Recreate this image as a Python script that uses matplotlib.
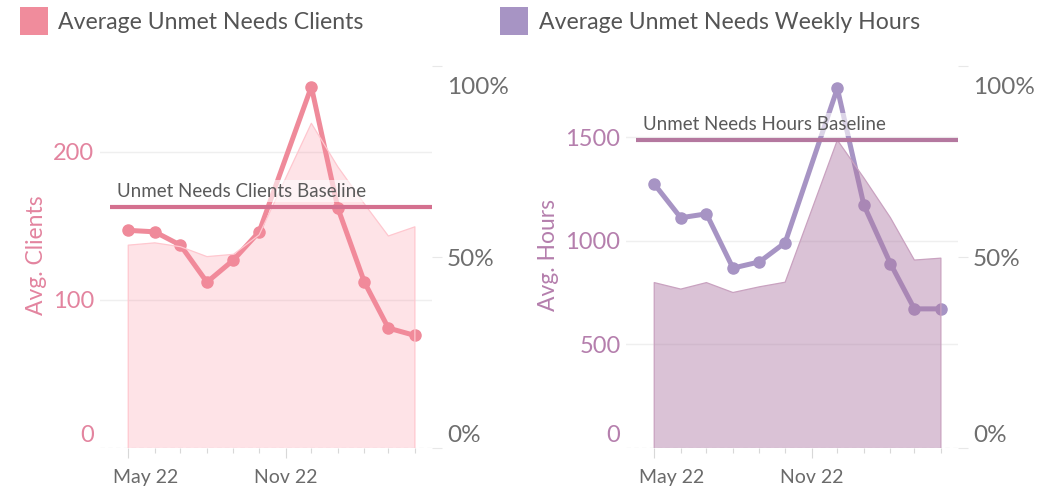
import matplotlib
matplotlib.use("Agg")
import matplotlib.pyplot as plt
import matplotlib.transforms as mtrans
from matplotlib.patches import Rectangle
import numpy as np

# ---------------- data ----------------
months = ["2022-05-01", "2022-06-01", "2022-07-01", "2022-08-01", "2022-09-01",
          "2022-10-01", "2022-12-01", "2023-01-01", "2023-02-01", "2023-03-01",
          "2023-04-01"]
clients_avg = [147, 146, 137, 112, 127, 146, 244, 162, 112, 81, 76]
clients_share = [0.531, 0.537, 0.527, 0.501, 0.507, 0.558, 0.850, 0.736, 0.639, 0.555, 0.579]
hours_avg = [1275, 1112, 1131, 869, 899, 992, 1737, 1173, 891, 672, 672]
hours_share = [0.433, 0.416, 0.433, 0.407, 0.422, 0.434, 0.806, 0.707, 0.603, 0.492, 0.497]
clients_baseline = 163
hours_baseline = 1488

legend_labels = ["Average Unmet Needs Clients", "Average Unmet Needs Weekly Hours"]
y_labels = ["Avg. Clients", "Avg. Hours"]
baseline_labels = ["Unmet Needs Clients Baseline", "Unmet Needs Hours Baseline"]
clients_ticks = [0, 100, 200]
hours_ticks = [0, 500, 1000, 1500]
share_ticks = [0.0, 0.5, 1.0]
share_tick_labels = ["0%", "50%", "100%"]
x_tick_dates = ["2022-05-01", "2022-11-01"]
x_tick_labels = ["May 22", "Nov 22"]
minor_dates = ["2022-05-01", "2022-06-01", "2022-07-01", "2022-08-01", "2022-09-01",
               "2022-10-01", "2022-11-01", "2022-12-01", "2023-01-01", "2023-02-01",
               "2023-03-01", "2023-04-01"]
x_limits = ["2022-03-29", "2023-04-21"]

# ---------------- style ----------------
plt.rcParams["font.family"] = ["Lato", "DejaVu Sans"]
W, H = 1039, 490
fig = plt.figure(figsize=(W / 100, H / 100), dpi=100)

dates = np.array(months, dtype="datetime64[D]")
xt = np.array(x_tick_dates, dtype="datetime64[D]")
xm = np.array(minor_dates, dtype="datetime64[D]")
xl = np.array(x_limits, dtype="datetime64[D]")


def px_rect(x0, x1, ytop=66, ybot=448):
    return [x0 / W, 1 - ybot / H, (x1 - x0) / W, (ybot - ytop) / H]


def shift(label, dx_px, dy_px):
    off = mtrans.ScaledTranslation(dx_px / 100, dy_px / 100, fig.dpi_scale_trans)
    label.set_transform(label.get_transform() + off)


def panel(rect, vals, share, ymax, yticks, baseline, bl_label, line_c, area_fc,
          area_alpha, area_ec, tick_c, ylabel, ylabel_x, bl_c):
    ax = fig.add_axes(rect)
    ax2 = ax.twinx()
    for a in (ax, ax2):
        for s in a.spines.values():
            s.set_visible(False)
    ax.set_xlim(xl[0], xl[1])
    ax.set_ylim(0, ymax)
    ax2.set_ylim(0, 1)

    # line series (below area)
    ax.plot(dates, vals, color=line_c, lw=3.6, marker="o", ms=8,
            solid_capstyle="round", solid_joinstyle="round", clip_on=False, zorder=3)

    # grid
    ax.set_yticks(yticks)
    ax.set_yticklabels([str(t) for t in yticks])
    ax.grid(axis="y", color="#efefef", lw=1)
    ax.set_axisbelow(True)
    ax.get_ygridlines()[0].set_visible(False)
    ax.axhline(0, color="#c4c4c4", lw=0.8, ls=(0, (4, 3)), zorder=1)
    ax.tick_params(axis="y", length=0, pad=4, labelsize=17, labelcolor=tick_c)
    shift(ax.get_yticklabels()[0], 0, 14.5)

    ax.set_ylabel(ylabel, color=tick_c, fontsize=16.5)
    ax.yaxis.set_label_coords(ylabel_x, 0.505)

    # x axis
    ax.set_xticks(xt)
    ax.set_xticklabels(x_tick_labels)
    ax.set_xticks(xm, minor=True)
    ax.tick_params(axis="x", which="major", length=7.2, width=0.8, color="#d8d8d8",
                   pad=8, labelsize=14, labelcolor="#6a6a6a")
    ax.tick_params(axis="x", which="minor", length=3.6, width=0.8, color="#d8d8d8")
    shift(ax.get_xticklabels()[0], 17, 0)

    # area on secondary axis (above line)
    ax2.fill_between(dates, 0, share, facecolor=area_fc, alpha=area_alpha,
                     edgecolor="none", zorder=2)
    ax2.plot(np.r_[dates[0], dates, dates[-1]], np.r_[0, share, 0], color=area_ec,
             lw=0.9, zorder=2)
    ax2.set_yticks(share_ticks)
    ax2.set_yticklabels(share_tick_labels)
    ax2.tick_params(axis="y", length=7.2, width=0.8, color="#e8e8e8", pad=3.5,
                    labelsize=17.5, labelcolor="#6e6e6e")
    labs = ax2.get_yticklabels()
    shift(labs[0], 0, 15)
    shift(labs[-1], 0, -19)

    # baseline reference line (on top)
    bt = mtrans.blended_transform_factory(ax.transAxes, ax.transData)
    ax2.plot([10 / 332, 1], [baseline, baseline], transform=bt, color=bl_c, lw=3,
             solid_capstyle="butt", zorder=5, clip_on=False)
    ax2.annotate(bl_label, xy=(17 / 332, baseline), xycoords=bt,
                 xytext=(0, 7.2), textcoords="offset points", ha="left", va="baseline",
                 fontsize=13.5, color="#5a5a5a", zorder=6,
                 bbox=dict(boxstyle="square,pad=0.15", fc="white", ec="none", alpha=0.6))
    return ax, ax2


panel(px_rect(100, 432), clients_avg, clients_share, 258, clients_ticks,
      clients_baseline, baseline_labels[0], "#ef8a9a", "#fb8a9b", 0.24, "#ffc7cf",
      "#e3849f", y_labels[0], -0.16, "#d4708f")
panel(px_rect(626, 958), hours_avg, hours_share, 1845, hours_ticks,
      hours_baseline, baseline_labels[1], "#a794c4", "#ad78a4", 0.45, "#c9a2c0",
      "#b57fad", y_labels[1], -0.202, "#b4789f")

# legend
for (x0, tx), lab, col in zip([(20, 58), (500, 539)], legend_labels, ["#f08c9c", "#a794c4"]):
    fig.patches.append(Rectangle((x0 / W, 1 - 35 / H), 28 / W, 28 / H,
                                 transform=fig.transFigure, fc=col, ec="none"))
    fig.text(tx / W, 1 - 29.3 / H, lab, fontsize=16.6, color="#555555", va="baseline",
             ha="left")

fig.savefig("out.png", dpi=100)
